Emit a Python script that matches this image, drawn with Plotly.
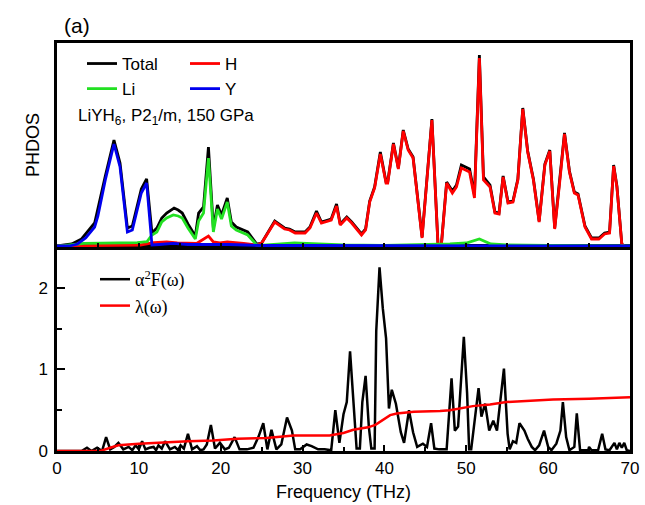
import plotly.graph_objects as go

# ---------------- Top panel: phonon DOS (arbitrary units) ----------------
total_f = [0, 1.8, 3.0, 4.6, 5.9, 6.96, 7.7, 8.6, 9.2, 10.3, 10.95, 11.35, 11.6, 12.2, 12.8, 13.4,
           14.3, 14.8, 15.3, 16.0, 16.9, 17.3, 17.9, 18.5, 19.1, 19.6, 20.1, 20.8, 21.3, 21.9, 23.3,
           24.4, 25.0, 26.6, 27.8, 28.4, 29.1, 30.3, 30.9, 31.7, 32.3, 33.5, 34.15, 34.6, 35.4, 36.0,
           37.2, 37.7, 38.2, 38.8, 39.5, 40.2, 40.4, 41.1, 41.7, 42.3, 42.9, 43.5, 44.6, 45.8, 46.55,
           46.95, 47.6, 48.3, 48.8, 49.4, 50.4, 51.0, 51.6, 52.1, 52.9, 53.5, 54.0, 54.5, 55.1, 55.7,
           56.3, 56.9, 57.5, 58.2, 58.9, 59.6, 60.2, 60.8, 61.4, 62.0, 62.6, 63.2, 63.65, 64.5, 65.3,
           66.2, 66.9, 67.5, 68.0, 68.4, 69.0, 69.3]
total_v = [0, 2, 7, 23, 70, 106, 83, 18, 20, 57, 67, 33, 13, 18, 28, 33,
           38, 36, 33, 22, 10, 33, 39, 99, 18, 41, 31, 48, 24, 19, 14,
           2, 3, 25, 18, 17, 14, 14, 19, 35, 24, 27, 42, 22, 29, 24,
           12, 17, 45, 59, 94, 64, 64, 103, 78, 116, 97, 89, 9, 127, 1,
           1, 64, 55, 61, 81, 77, 51, 191, 69, 61, 34, 33, 70, 44, 45,
           67, 138, 95, 67, 25, 82, 96, 18, 64, 113, 75, 54, 52, 20, 8,
           8, 13, 14, 81, 60, 2, 0]

h_f = [0, 5, 10.2, 11.8, 13.4, 14.7, 17.1, 18.5, 19.1, 19.9, 20.8, 22.8, 24.4, 25.0, 26.6, 27.8,
       28.4, 29.1, 30.3, 30.9, 31.7, 32.3, 33.5, 34.15, 34.6, 35.4, 36.0, 37.2, 37.7, 38.2, 38.8,
       39.5, 40.2, 40.4, 41.1, 41.7, 42.3, 42.9, 43.5, 44.6, 45.8, 46.55, 46.95, 47.6, 48.3, 48.8,
       49.4, 50.4, 51.0, 51.6, 52.1, 52.9, 53.5, 54.0, 54.5, 55.1, 55.7, 56.3, 56.9, 57.5, 58.2,
       58.9, 59.6, 60.2, 60.8, 61.4, 62.0, 62.6, 63.2, 63.65, 64.5, 65.3, 66.2, 66.9, 67.5, 68.0,
       68.4, 69.0, 69.3]
h_v = [0, 0.5, 1, 3.3, 4, 3, 2.7, 10, 4, 3, 4, 2.7, 1, 3, 24, 17,
       16, 13, 13, 18, 33, 23, 26, 40, 21, 28, 23, 11, 16, 44, 58,
       92, 63, 63, 102, 77, 115, 96, 88, 8, 126, 0, 0, 63, 53, 59,
       78, 74, 48, 188, 66, 59, 33, 32, 69, 43, 44, 66, 137, 94, 66,
       24, 81, 95, 17, 63, 112, 74, 53, 51, 19, 7, 7, 12, 13, 80,
       59, 2, 0]

li_f = [0, 1, 3.3, 6.5, 9.8, 11.0, 11.6, 12.2, 12.8, 13.4, 14.2, 14.8, 15.3, 16.0, 16.9, 17.3,
        17.9, 18.5, 19.1, 19.6, 20.1, 20.8, 21.3, 21.9, 23.3, 24.4, 24.8, 29, 35, 40, 45, 48,
        50, 51.6, 53, 55, 60, 65, 70]
li_v = [0, 0.5, 2.7, 3.3, 3.3, 4.3, 11, 14, 24, 28, 31, 30, 28, 18, 7, 25,
        33, 88, 14, 37, 27, 44, 20, 16, 11, 1, 0.5, 3, 1, 0.5, 1, 2,
        3, 7, 2, 1, 0.5, 0.5, 0]

y_f = [0, 1.5, 2.5, 3.5, 4.6, 5.0, 5.9, 6.96, 7.7, 8.6, 9.2, 10.3, 10.95, 11.35, 11.6, 12.5,
       14.2, 16, 17.9, 19, 21, 23, 25, 30, 35, 40, 50, 60, 70]
y_v = [0, 0, 2, 8, 19, 30, 66, 102, 79, 14, 16, 53, 63, 29, 1, 1.5,
       2.7, 1.5, 1.7, 1.2, 1.5, 1, 0.5, 0.5, 0.5, 0.5, 0.5, 0.5, 0]

# ---------------- Bottom panel: Eliashberg function and lambda ----------------
a2f_f = [0, 3.0, 3.66, 4.2, 4.9, 5.5, 6.0, 6.5, 7.0, 7.5, 8.1, 8.75, 9.2, 9.6, 10.0, 10.4, 10.8,
         11.3, 11.8, 12.1, 12.4, 12.8, 13.2, 13.8, 14.4, 14.8, 15.1, 15.5, 16.0, 16.5, 17.1, 17.5,
         17.9, 18.3, 18.8, 19.3, 19.9, 20.5, 21.0, 21.7, 22.3, 23.2, 24.0, 24.6, 25.2, 25.7, 26.2,
         26.8, 27.4, 28.1, 28.7, 29.1, 29.7, 30.5, 31.1, 31.9, 32.7, 33.5, 34.0, 34.5, 35.0, 35.4,
         35.8, 36.2, 36.6, 37.0, 37.3, 37.7, 38.1, 38.4, 38.8, 39.0, 39.4, 39.8, 40.2, 40.55, 40.9,
         41.4, 42.0, 42.4, 43.0, 43.5, 44.0, 44.7, 45.2, 45.7, 46.1, 46.7, 47.6, 48.2, 48.6, 49.0,
         49.3, 49.7, 50.1, 50.35, 50.6, 51.5, 51.85, 52.3, 52.8, 53.3, 53.75, 54.1, 54.6, 55.05,
         55.3, 55.7, 56.1, 56.5, 57.1, 57.5, 58.0, 58.4, 58.9, 59.5, 60.0, 60.4, 61.0, 61.5, 61.8,
         62.2, 62.6, 63.2, 63.5, 63.9, 64.9, 65.0, 65.3, 66.1, 66.6, 67.0, 67.5, 68.1, 68.4, 68.7,
         69.0, 69.3, 69.6, 70]
a2f_v = [0, 0, 0.04, 0.0, 0.04, 0.0, 0.17, 0.02, 0.05, 0.1, 0.02, 0.05, 0.01, 0.07, 0.02, 0.12, 0.02,
         0.04, 0.05, 0.01, 0.07, 0.03, 0.12, 0.02, 0.05, 0.01, 0.07, 0.03, 0.21, 0.02, 0.06, 0.01,
         0.02, 0.08, 0.32, 0.03, 0.1, 0.02, 0.04, 0.17, 0.02, 0.02, 0.04, 0.17, 0.34, 0.02, 0.26,
         0.02, 0.08, 0.41, 0.25, 0.02, 0.02, 0.08, 0.06, 0.02, 0.02, 0.01, 0.5, 0.1, 0.45, 0.6,
         1.22, 0.64, 0.03, 0.03, 0.6, 0.92, 0.29, 0.03, 0.03, 1.47, 2.25, 1.75, 1.38, 0.52, 0.75,
         0.58, 0.23, 0.1, 0.5, 0.23, 0.05, 0.09, 0.05, 0.34, 0.03, 0.02, 0.02, 0.89, 0.25, 0.3,
         0.83, 1.4, 0.71, 0.02, 0.02, 0.77, 0.42, 0.58, 0.25, 0.37, 0.25, 0.54, 1.01, 0.21,
         0.02, 0.12, 0.1, 0.34, 0.25, 0.15, 0.05, 0.01, 0.07, 0.25, 0.05, 0.01, 0.09, 0.25, 0.6,
         0.17, 0.01, 0.05, 0.46, 0.01, 0.01, 0.05, 0.01, 0.01, 0.21, 0.02, 0.01, 0.1, 0.02, 0.1,
         0.04, 0.1, 0.01, 0.0]

lam_f = [0, 5.3, 6.5, 7.5, 10, 13.4, 16, 19.1, 22, 25.6, 28.9, 33.3, 35, 36.2, 38.0, 38.9, 39.5,
         40.0, 40.7, 41.5, 43.6, 46.8, 48.0, 50.8, 52.9, 54.9, 57, 59.1, 60.6, 65, 70]
lam_v = [0, 0, 0.04, 0.07, 0.09, 0.11, 0.12, 0.13, 0.15, 0.16, 0.19, 0.19, 0.22, 0.26, 0.29, 0.32, 0.36,
         0.4, 0.44, 0.46, 0.48, 0.49, 0.5, 0.55, 0.57, 0.6, 0.61, 0.62, 0.63, 0.64, 0.66]

SANS = "Liberation Sans, Arial, sans-serif"
SERIF = "Liberation Serif, Times New Roman, serif"

fig = go.Figure()
fig.add_trace(go.Scatter(x=total_f, y=total_v, name="Total", mode="lines",
                         line=dict(color="#000000", width=2.8), xaxis="x2", yaxis="y2", legend="legend"))
fig.add_trace(go.Scatter(x=h_f, y=h_v, name="H", mode="lines",
                         line=dict(color="#ff0000", width=2.8), xaxis="x2", yaxis="y2", legend="legend3"))
fig.add_trace(go.Scatter(x=li_f, y=li_v, name="Li", mode="lines",
                         line=dict(color="#22e022", width=2.8), xaxis="x2", yaxis="y2", legend="legend"))
fig.add_trace(go.Scatter(x=y_f, y=y_v, name="Y", mode="lines",
                         line=dict(color="#0000ee", width=2.8), xaxis="x2", yaxis="y2", legend="legend3"))
fig.add_trace(go.Scatter(x=a2f_f, y=a2f_v, name="α<sup>2</sup>F(ω)", mode="lines",
                         line=dict(color="#000000", width=2.5), xaxis="x", yaxis="y", legend="legend2"))
fig.add_trace(go.Scatter(x=lam_f, y=lam_v, name="λ(ω)", mode="lines",
                         line=dict(color="#ff0000", width=2.5), xaxis="x", yaxis="y", legend="legend2"))

axis_common = dict(showline=True, linecolor="black", linewidth=2.5, mirror=True,
                   showgrid=False, zeroline=False, automargin=False)

leg_common = dict(bgcolor="rgba(0,0,0,0)", borderwidth=0, traceorder="normal",
                  xanchor="left", yanchor="top", tracegroupgap=0)

fig.update_layout(
    width=645, height=505,
    margin=dict(l=57, r=15, t=43, b=54, autoexpand=False),
    paper_bgcolor="white", plot_bgcolor="white",
    font=dict(family=SANS, color="black", size=17),
    showlegend=True,
    xaxis=dict(domain=[0, 1], anchor="y", range=[0, 70], tick0=0, dtick=10,
               ticks="inside", ticklen=6, tickwidth=2, tickcolor="black",
               minor=dict(ticks="inside", ticklen=4, tickwidth=2, dtick=5, tick0=0, tickcolor="black"),
               tickfont=dict(size=17, family=SANS),
               title=dict(text="Frequency (THz)", font=dict(size=18, family=SANS), standoff=9),
               **axis_common),
    yaxis=dict(domain=[0, 0.5], anchor="x", range=[0, 2.5], tick0=0, dtick=1,
               ticks="inside", ticklen=8, tickwidth=2, tickcolor="black",
               minor=dict(ticks="inside", ticklen=5, tickwidth=2, dtick=0.5, tick0=0, tickcolor="black"),
               tickfont=dict(size=17, family=SANS), ticklabelstandoff=3,
               **axis_common),
    xaxis2=dict(domain=[0, 1], anchor="y2", matches="x", range=[0, 70], tick0=0, dtick=5,
                ticks="inside", ticklen=4, tickwidth=2, tickcolor="black", showticklabels=False,
                **axis_common),
    yaxis2=dict(domain=[0.5, 1], anchor="x2", range=[-1, 203], ticks="", showticklabels=False,
                **axis_common),
    legend=dict(x=0.0436, y=0.9927, font=dict(size=17, family=SANS), **leg_common),
    legend3=dict(x=0.2234, y=0.9927, font=dict(size=17, family=SANS), **leg_common),
    legend2=dict(x=0.0663, y=0.4657, font=dict(size=18, family=SERIF), **leg_common),
    annotations=[
        dict(text="(a)", xref="paper", yref="paper", x=0.0087, y=1.0417,
             xanchor="left", yanchor="middle", showarrow=False, font=dict(size=21, family=SANS)),
        dict(text="LiYH<sub>6</sub>, P2<sub>1</sub>/m, 150 GPa", xref="paper", yref="paper",
             x=0.0332, y=0.819, xanchor="left", yanchor="middle", showarrow=False,
             font=dict(size=17, family=SANS)),
        dict(text="PHDOS", xref="paper", yref="paper", x=-0.042, y=0.75, textangle=-90,
             xanchor="center", yanchor="middle", showarrow=False, font=dict(size=18, family=SANS)),
    ],
)

fig.write_html("out.html")
